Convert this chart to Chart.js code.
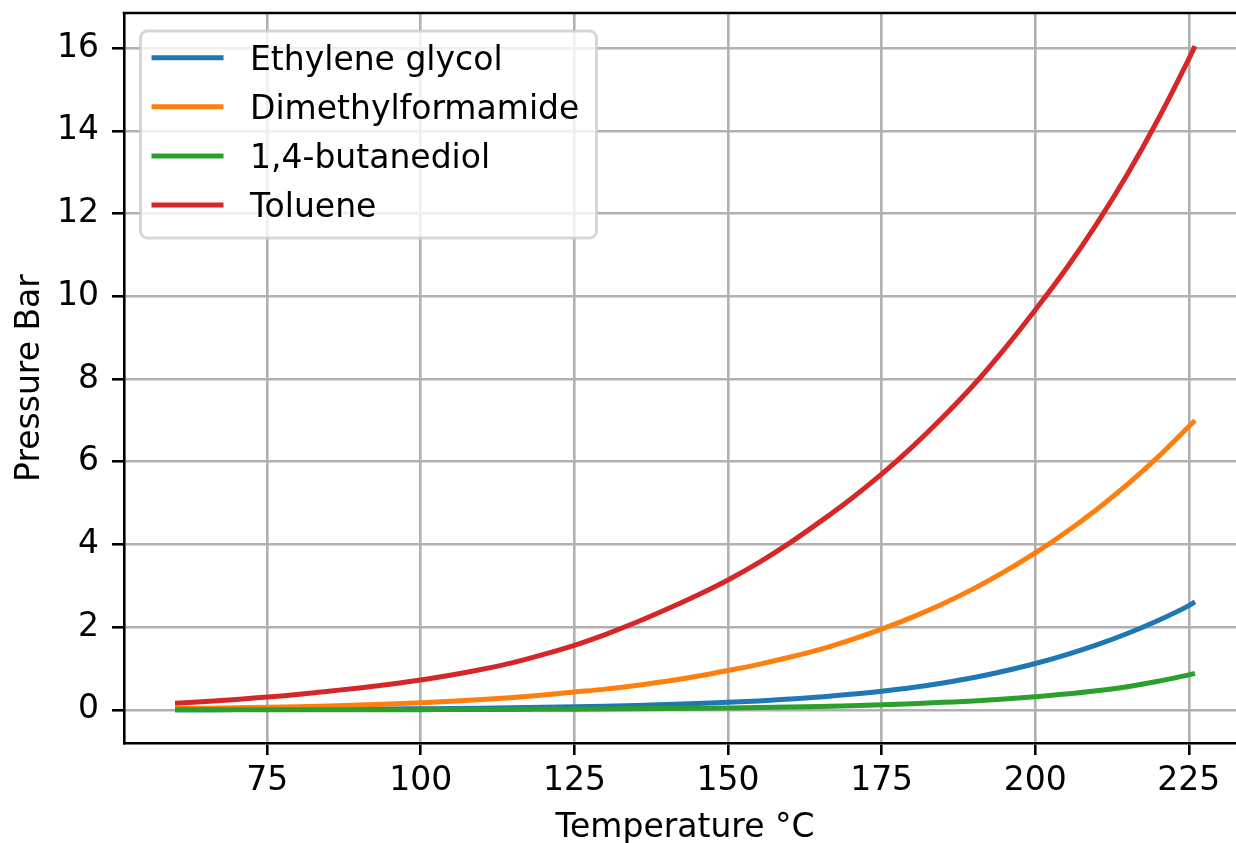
<!DOCTYPE html>
<html>
<head>
<meta charset="utf-8">
<script src="https://cdn.jsdelivr.net/npm/chart.js@4.4.1/dist/chart.umd.min.js"></script>
<style>
  html, body { margin: 0; padding: 0; overflow: hidden; background: #fff; width: 1236px; height: 843px; }
  #wrap { position: absolute; left: 0; top: 0; width: 1250px; height: 843px; }
</style>
</head>
<body>
<div id="wrap"><canvas id="c" width="1250" height="843"></canvas></div>
<script>
// Vapour pressure (bar) against temperature (°C)
const temperatureC = [60, 65, 70, 75, 80, 85, 90, 95, 100, 105, 110, 115, 120, 125, 130, 135, 140, 145,
  150, 155, 160, 165, 170, 175, 180, 185, 190, 195, 200, 205, 210, 215, 220, 225, 226];

const ethyleneGlycol = [0.003, 0.004, 0.005, 0.007, 0.009, 0.012, 0.016, 0.02, 0.026, 0.032, 0.04, 0.049,
  0.06, 0.073, 0.088, 0.105, 0.126, 0.15, 0.18, 0.215, 0.26, 0.31, 0.375, 0.45, 0.54, 0.65, 0.78, 0.94,
  1.12, 1.33, 1.57, 1.845, 2.16, 2.52, 2.61];

const dimethylformamide = [0.03, 0.038, 0.048, 0.06, 0.075, 0.093, 0.115, 0.14, 0.17, 0.205, 0.25, 0.30,
  0.36, 0.43, 0.50, 0.59, 0.69, 0.81, 0.95, 1.10, 1.27, 1.46, 1.69, 1.95, 2.24, 2.565, 2.93, 3.34,
  3.795, 4.295, 4.845, 5.45, 6.115, 6.85, 7.0];

const butanediol = [0.0004, 0.0005, 0.0007, 0.001, 0.0013, 0.0017, 0.0023, 0.003, 0.004, 0.0055, 0.007,
  0.009, 0.012, 0.015, 0.019, 0.024, 0.03, 0.037, 0.045, 0.055, 0.068, 0.083, 0.10, 0.12, 0.145, 0.18,
  0.215, 0.26, 0.315, 0.38, 0.46, 0.56, 0.69, 0.845, 0.88];

const toluene = [0.16, 0.20, 0.25, 0.31, 0.37, 0.45, 0.53, 0.62, 0.72, 0.84, 0.98, 1.14, 1.34, 1.56, 1.82,
  2.11, 2.43, 2.77, 3.14, 3.56, 4.03, 4.55, 5.10, 5.70, 6.36, 7.08, 7.86, 8.73, 9.67, 10.66, 11.75,
  12.95, 14.28, 15.74, 16.05];

const seriesNames = ['Ethylene glycol', 'Dimethylformamide', '1,4-butanediol', 'Toluene'];
const xTickValues = [75, 100, 125, 150, 175, 200, 225];
const yTickValues = [0, 2, 4, 6, 8, 10, 12, 14, 16];

const FONT = 'DejaVu Sans';
const pts = (ys) => temperatureC.map((t, i) => ({ x: t, y: ys[i] }));

function series(label, ys, color, order) {
  return {
    label, data: pts(ys), borderColor: color, backgroundColor: color,
    borderWidth: 5, pointRadius: 0, pointHoverRadius: 0, fill: false,
    cubicInterpolationMode: 'monotone', order
  };
}

// Top and right spines around the plotting area
const framePlugin = {
  id: 'frame',
  afterDatasetsDraw(chart) {
    const { ctx, chartArea: a } = chart;
    ctx.save();
    ctx.strokeStyle = '#000';
    ctx.lineWidth = 2.6;
    ctx.beginPath();
    ctx.moveTo(a.left - 1.3, a.top);
    ctx.lineTo(a.right, a.top);
    ctx.lineTo(a.right, a.bottom);
    ctx.stroke();
    ctx.restore();
  }
};

// Boxed legend in the upper-left corner of the plotting area
const boxLegendPlugin = {
  id: 'boxLegend',
  afterDatasetsDraw(chart) {
    const { ctx, chartArea: a } = chart;
    const x0 = a.left + 16.5, y0 = a.top + 18, w = 456, h = 207, r = 7;
    ctx.save();
    ctx.beginPath();
    ctx.roundRect(x0, y0, w, h, r);
    ctx.fillStyle = 'rgba(255,255,255,0.8)';
    ctx.fill();
    ctx.lineWidth = 3;
    ctx.strokeStyle = 'rgba(204,204,204,0.8)';
    ctx.stroke();
    ctx.font = '33px "' + FONT + '"';
    ctx.textBaseline = 'alphabetic';
    ctx.textAlign = 'left';
    chart.data.datasets.forEach((ds, i) => {
      const y = y0 + 26.7 + i * 49.1;
      ctx.strokeStyle = ds.borderColor;
      ctx.lineWidth = 5;
      ctx.beginPath();
      ctx.moveTo(x0 + 11, y);
      ctx.lineTo(x0 + 83, y);
      ctx.stroke();
      ctx.fillStyle = '#000';
      ctx.fillText(ds.label, x0 + 109.5, y + 12.3);
    });
    ctx.restore();
  }
};

new Chart(document.getElementById('c'), {
  type: 'line',
  data: {
    datasets: [
      series(seriesNames[0], ethyleneGlycol, '#1f77b4', 4),
      series(seriesNames[1], dimethylformamide, '#ff7f0e', 3),
      series(seriesNames[2], butanediol, '#2ca02c', 2),
      series(seriesNames[3], toluene, '#d62728', 1)
    ]
  },
  options: {
    responsive: false,
    devicePixelRatio: 1,
    animation: false,
    events: [],
    layout: { padding: { left: 0, right: 4, top: 13, bottom: 0 } },
    plugins: { legend: { display: false }, tooltip: { enabled: false } },
    scales: {
      x: {
        type: 'linear',
        min: 51.7,
        max: 234.3,
        afterBuildTicks: (s) => { s.ticks = xTickValues.map(v => ({ value: v })); },
        afterFit: (s) => { s.height = 100; s.paddingLeft = 0; s.paddingRight = 0; },
        grid: { color: '#b0b0b0', lineWidth: 2.6, drawTicks: true, tickLength: 12, tickColor: '#000', tickWidth: 2.6 },
        border: { display: true, color: '#000', width: 2.6 },
        ticks: { color: '#000', font: { family: FONT, size: 33 }, padding: 7, maxRotation: 0, autoSkip: false },
        title: { display: true, text: 'Temperature °C', color: '#000',
                 font: { family: FONT, size: 33, lineHeight: 0.87 }, padding: { top: 0, bottom: 0 } }
      },
      y: {
        type: 'linear',
        min: -0.8025,
        max: 16.85,
        afterBuildTicks: (s) => { s.ticks = yTickValues.map(v => ({ value: v })); },
        afterFit: (s) => { s.width = 124; s.paddingTop = 0; s.paddingBottom = 0; },
        grid: { color: '#b0b0b0', lineWidth: 2.6, drawTicks: true, tickLength: 12, tickColor: '#000', tickWidth: 2.6 },
        border: { display: true, color: '#000', width: 2.6 },
        ticks: { color: '#000', font: { family: FONT, size: 33 }, padding: 13 },
        title: { display: true, text: 'Pressure Bar', color: '#000',
                 font: { family: FONT, size: 33, lineHeight: 0.87 }, padding: { top: 16, bottom: 0 } }
      }
    }
  },
  plugins: [framePlugin, boxLegendPlugin]
});
</script>
</body>
</html>
